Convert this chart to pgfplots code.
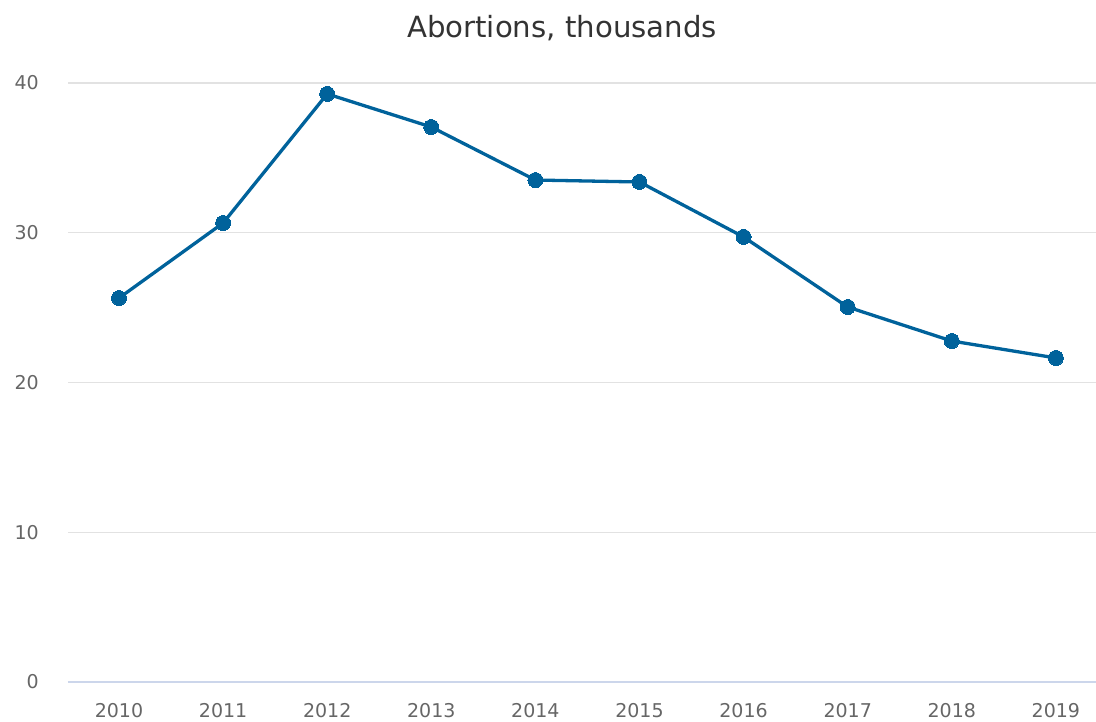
\documentclass[border=0pt]{standalone}
\usepackage{pgfplots}
\pgfplotsset{compat=1.18}
\usepackage{fontspec}
\setmainfont{DejaVu Sans}
\definecolor{lineblue}{HTML}{00629B}
\definecolor{gridgray}{HTML}{E2E2E2}
\definecolor{axisblue}{HTML}{CCD6EB}
\definecolor{ticklab}{HTML}{666666}
\definecolor{titlecol}{HTML}{333333}
\begin{document}
\begin{tikzpicture}
\path[use as bounding box] (-68pt,-39pt) rectangle (1028pt,682pt);
\begin{axis}[
  scale only axis,
  width=1028pt, height=599pt,
  xmin=-0.49, xmax=9.385,
  ymin=0, ymax=40,
  xtick={0,...,9},
  xticklabels={2010,2011,2012,2013,2014,2015,2016,2017,2018,2019},
  ytick={0,10,20,30,40},
  ymajorgrids,
  grid style={gridgray, line width=1.2pt},
  axis x line*=bottom,
  axis y line*=left,
  y axis line style={draw=none},
  x axis line style={axisblue, line width=1.2pt, -},
  major tick length=0pt,
  tick style={draw=none},
  /pgf/number format/assume math mode=true,
  xticklabel style={font=\fontsize{19}{22}\selectfont, text=ticklab, anchor=base, inner sep=0pt, yshift=-35pt},
  yticklabel style={font=\fontsize{19}{22}\selectfont, text=ticklab, anchor=east, inner sep=0pt, xshift=-29pt},
  clip=false,
]
\addplot[lineblue, line width=3.3pt, mark=*, mark size=7.5pt, mark options={fill=lineblue, draw=lineblue, line width=0pt}]
coordinates {
(0,25.64) (1,30.65) (2,39.27) (3,37.06) (4,33.52) (5,33.39) (6,29.72) (7,25.04) (8,22.77) (9,21.64)
};
\end{axis}
\node[anchor=base, inner sep=0pt, text=titlecol, font=\fontsize{29.2}{33}\selectfont] at (494pt,644pt) {Abortions, thousands};
\end{tikzpicture}
\end{document}
